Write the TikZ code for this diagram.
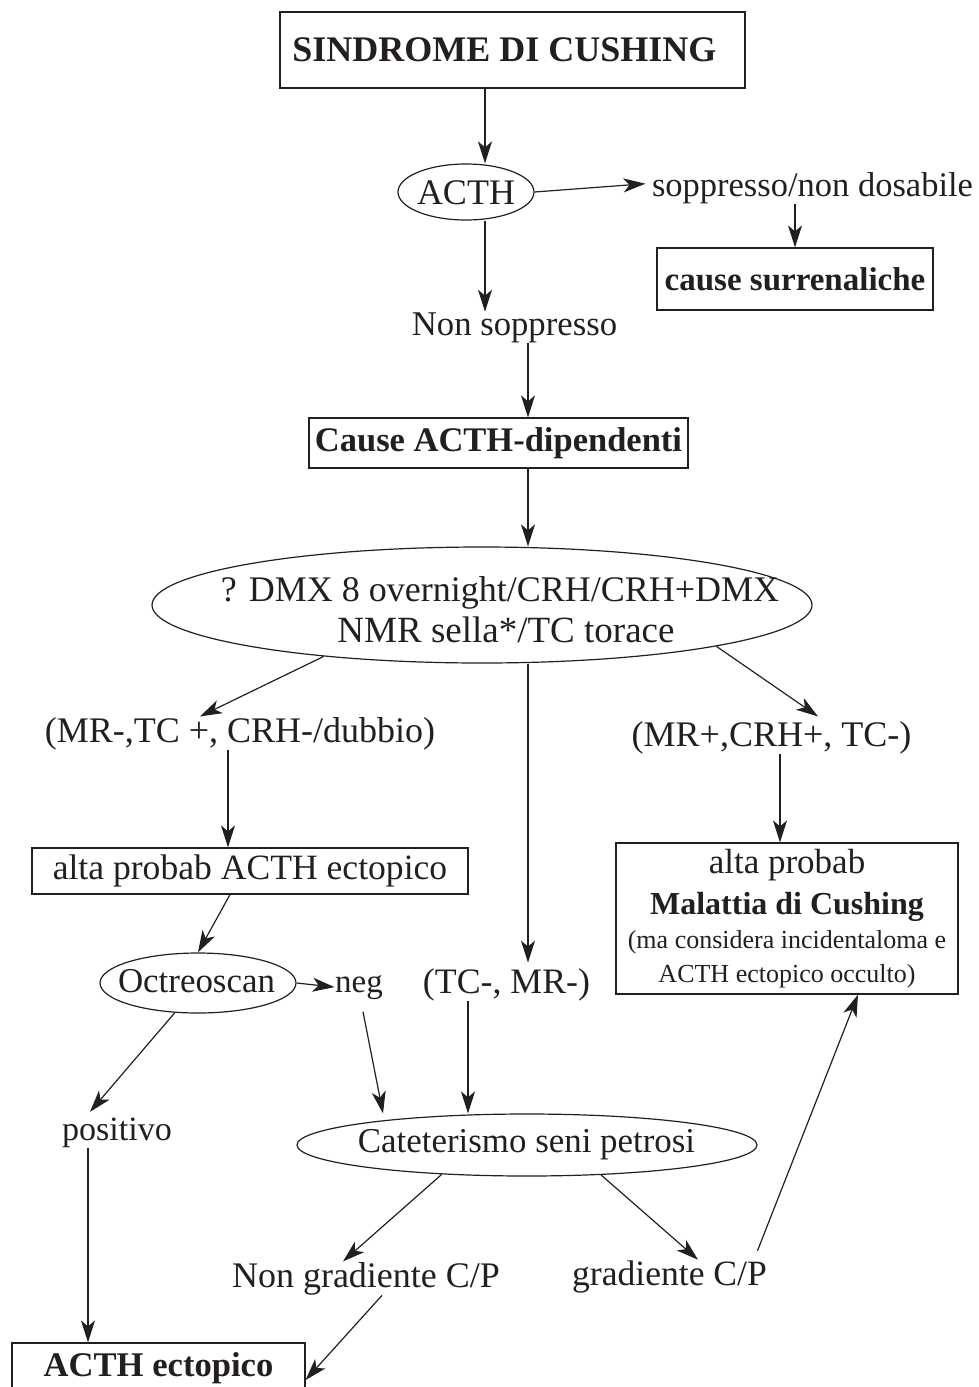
\documentclass[tikz,border=0pt]{standalone}
\usepackage{fontspec}
\setmainfont{Liberation Serif}
\usetikzlibrary{arrows.meta,shapes.geometric,calc}
\newcommand\setfs[1]{\fontsize{#1}{#1}\selectfont}
\definecolor{ink}{HTML}{231F20}
\begin{document}
\begin{tikzpicture}[x=1pt,y=-1pt,
  line width=1.2pt, color=ink,
  arr/.style={-{Stealth[length=22pt,width=14pt,inset=6pt]}},
  box/.style={draw, rectangle, inner sep=0pt},
  oval/.style={draw, ellipse, inner sep=0pt},
  txt/.style={inner sep=0pt, anchor=base},
]
\useasboundingbox (0,0) rectangle (978,1387);

% nodes
\node[box, minimum width=465pt, minimum height=76pt, font=\bfseries\setfs{36}] (title) at (512.5,50) {SINDROME DI CUSHING\hspace*{16pt}};
\node[oval, minimum width=136pt, minimum height=56pt] (acthE) at (466,192) {};
\node[txt, font=\setfs{36}] (acthT) at (466,204) {ACTH};
\node[txt, font=\setfs{34.5}] (sop) at (812.5,196) {soppresso/non dosabile};
\node[box, minimum width=276pt, minimum height=62pt, font=\bfseries\setfs{33}] (surr) at (795,279) {cause surrenaliche};
\node[txt, font=\setfs{34.7}] (nons) at (514.5,335) {Non soppresso};
\node[box, minimum width=379pt, minimum height=50pt, font=\bfseries\setfs{34.5}] (cause) at (498.5,443) {Cause ACTH-dipendenti};
\node[oval, minimum width=660pt, minimum height=116pt] (big) at (482,605) {};
\node[txt, font=\setfs{36}] (big1) at (500,601) {? DMX 8 overnight/CRH/CRH+DMX};
\node[txt, font=\setfs{37}] (big2) at (506,642) {NMR sella*/TC torace};
\node[txt, font=\setfs{36}] (mrm) at (240,742) {(MR-,TC +, CRH-/dubbio)};
\node[txt, font=\setfs{36}] (mrp) at (771.5,746) {(MR+,CRH+, TC-)};
\node[box, minimum width=436pt, minimum height=46pt, font=\setfs{35.6}] (alta) at (250,871) {alta probab ACTH ectopico};
\node[box, minimum width=342pt, minimum height=151pt] (mal) at (787,918.5) {};
\node[txt, font=\setfs{35}] (mal1) at (787,873) {alta probab};
\node[txt, font=\bfseries\setfs{32}] (mal2) at (787,914) {Malattia di Cushing};
\node[txt, font=\setfs{26}] (mal3) at (787,948) {(ma considera incidentaloma e};
\node[txt, font=\setfs{26}] (mal4) at (787,982) {ACTH ectopico occulto)};
\node[oval, minimum width=196pt, minimum height=60pt] (octE) at (198,983) {};
\node[txt, font=\setfs{34.9}] (octT) at (196.5,992) {Octreoscan};
\node[txt, font=\setfs{33}] (neg) at (359,992) {neg};
\node[txt, font=\setfs{35.8}] (tcmr) at (506.5,993) {(TC-, MR-)};
\node[txt, font=\setfs{34.1}] (pos) at (117,1140) {positivo};
\node[oval, minimum width=460pt, minimum height=62pt] (catE) at (527,1145) {};
\node[txt, font=\setfs{34.9}] (catT) at (526.5,1152) {Cateterismo seni petrosi};
\node[txt, font=\setfs{36}] (ng) at (366,1287) {Non gradiente C/P};
\node[txt, font=\setfs{35.6}] (gr) at (669.5,1285) {gradiente C/P};
\node[box, minimum width=293pt, minimum height=50pt, font=\bfseries\setfs{34.6}] (ecto) at (158.5,1368) {ACTH ectopico};

% connectors
\draw[arr] ([xshift=-27.5pt]title.south) -- ([xshift=-27.5pt]title.south |- acthE.north);
\draw[arr] (acthE.east) -- ([xshift=-6pt,yshift=4pt]sop.west);
\draw[arr] ([xshift=-17.5pt]sop.south) -- ([xshift=-17.5pt]sop.south |- surr.north);
\draw[arr] ([xshift=19pt]acthE.south) -- ([xshift=19pt]acthE.south |- nons.north);
\draw[arr] ([xshift=13.5pt]nons.south) -- ([xshift=13.5pt]nons.south |- cause.north);
\draw[arr] ([xshift=29.5pt]cause.south) -- ([xshift=29.5pt]cause.south |- big.north);
\draw[arr] (big.-162) -- ([xshift=-40pt]mrm.north);
\draw[arr] (big.-10) -- ([xshift=46.5pt,yshift=4pt]mrp.north);
\draw[arr] ([xshift=21.5pt]tcmr.north |- big.south) -- ([xshift=21.5pt,yshift=5pt]tcmr.north);
\draw[arr] ([xshift=-12pt]mrm.south) -- ([xshift=-12pt]mrm.south |- alta.north);
\draw[arr] ([xshift=8.5pt]mrp.south) -- ([xshift=8.5pt]mrp.south |- mal.north);
\draw[arr] ([xshift=-20pt]alta.south) -- (octE.north);
\draw[arr] (octE.east) -- (neg.west);
\draw[arr] (octE.-128) -- ([xshift=-27pt,yshift=5pt]pos.north);
\draw[arr] ([xshift=-29pt]pos.south) -- ([xshift=-29pt]pos.south |- ecto.north);
\draw[arr] ([xshift=4pt,yshift=-12pt]neg.south) -- ([xshift=-144pt]catE.north);
\draw[arr] ([xshift=-38.5pt]tcmr.south) -- ([xshift=-38.5pt]tcmr.south |- catE.north);
\draw[arr] (catE.-161) -- ([xshift=-23pt]ng.north);
\draw[arr] (catE.-22) -- ([xshift=28.5pt]gr.north);
\draw[arr] ([xshift=16pt]ng.south) -- ([yshift=-12pt]ecto.east);
\draw[arr] ([xshift=-10pt,yshift=9pt]gr.north east) -- ([xshift=71pt]mal.south);
\end{tikzpicture}
\end{document}
